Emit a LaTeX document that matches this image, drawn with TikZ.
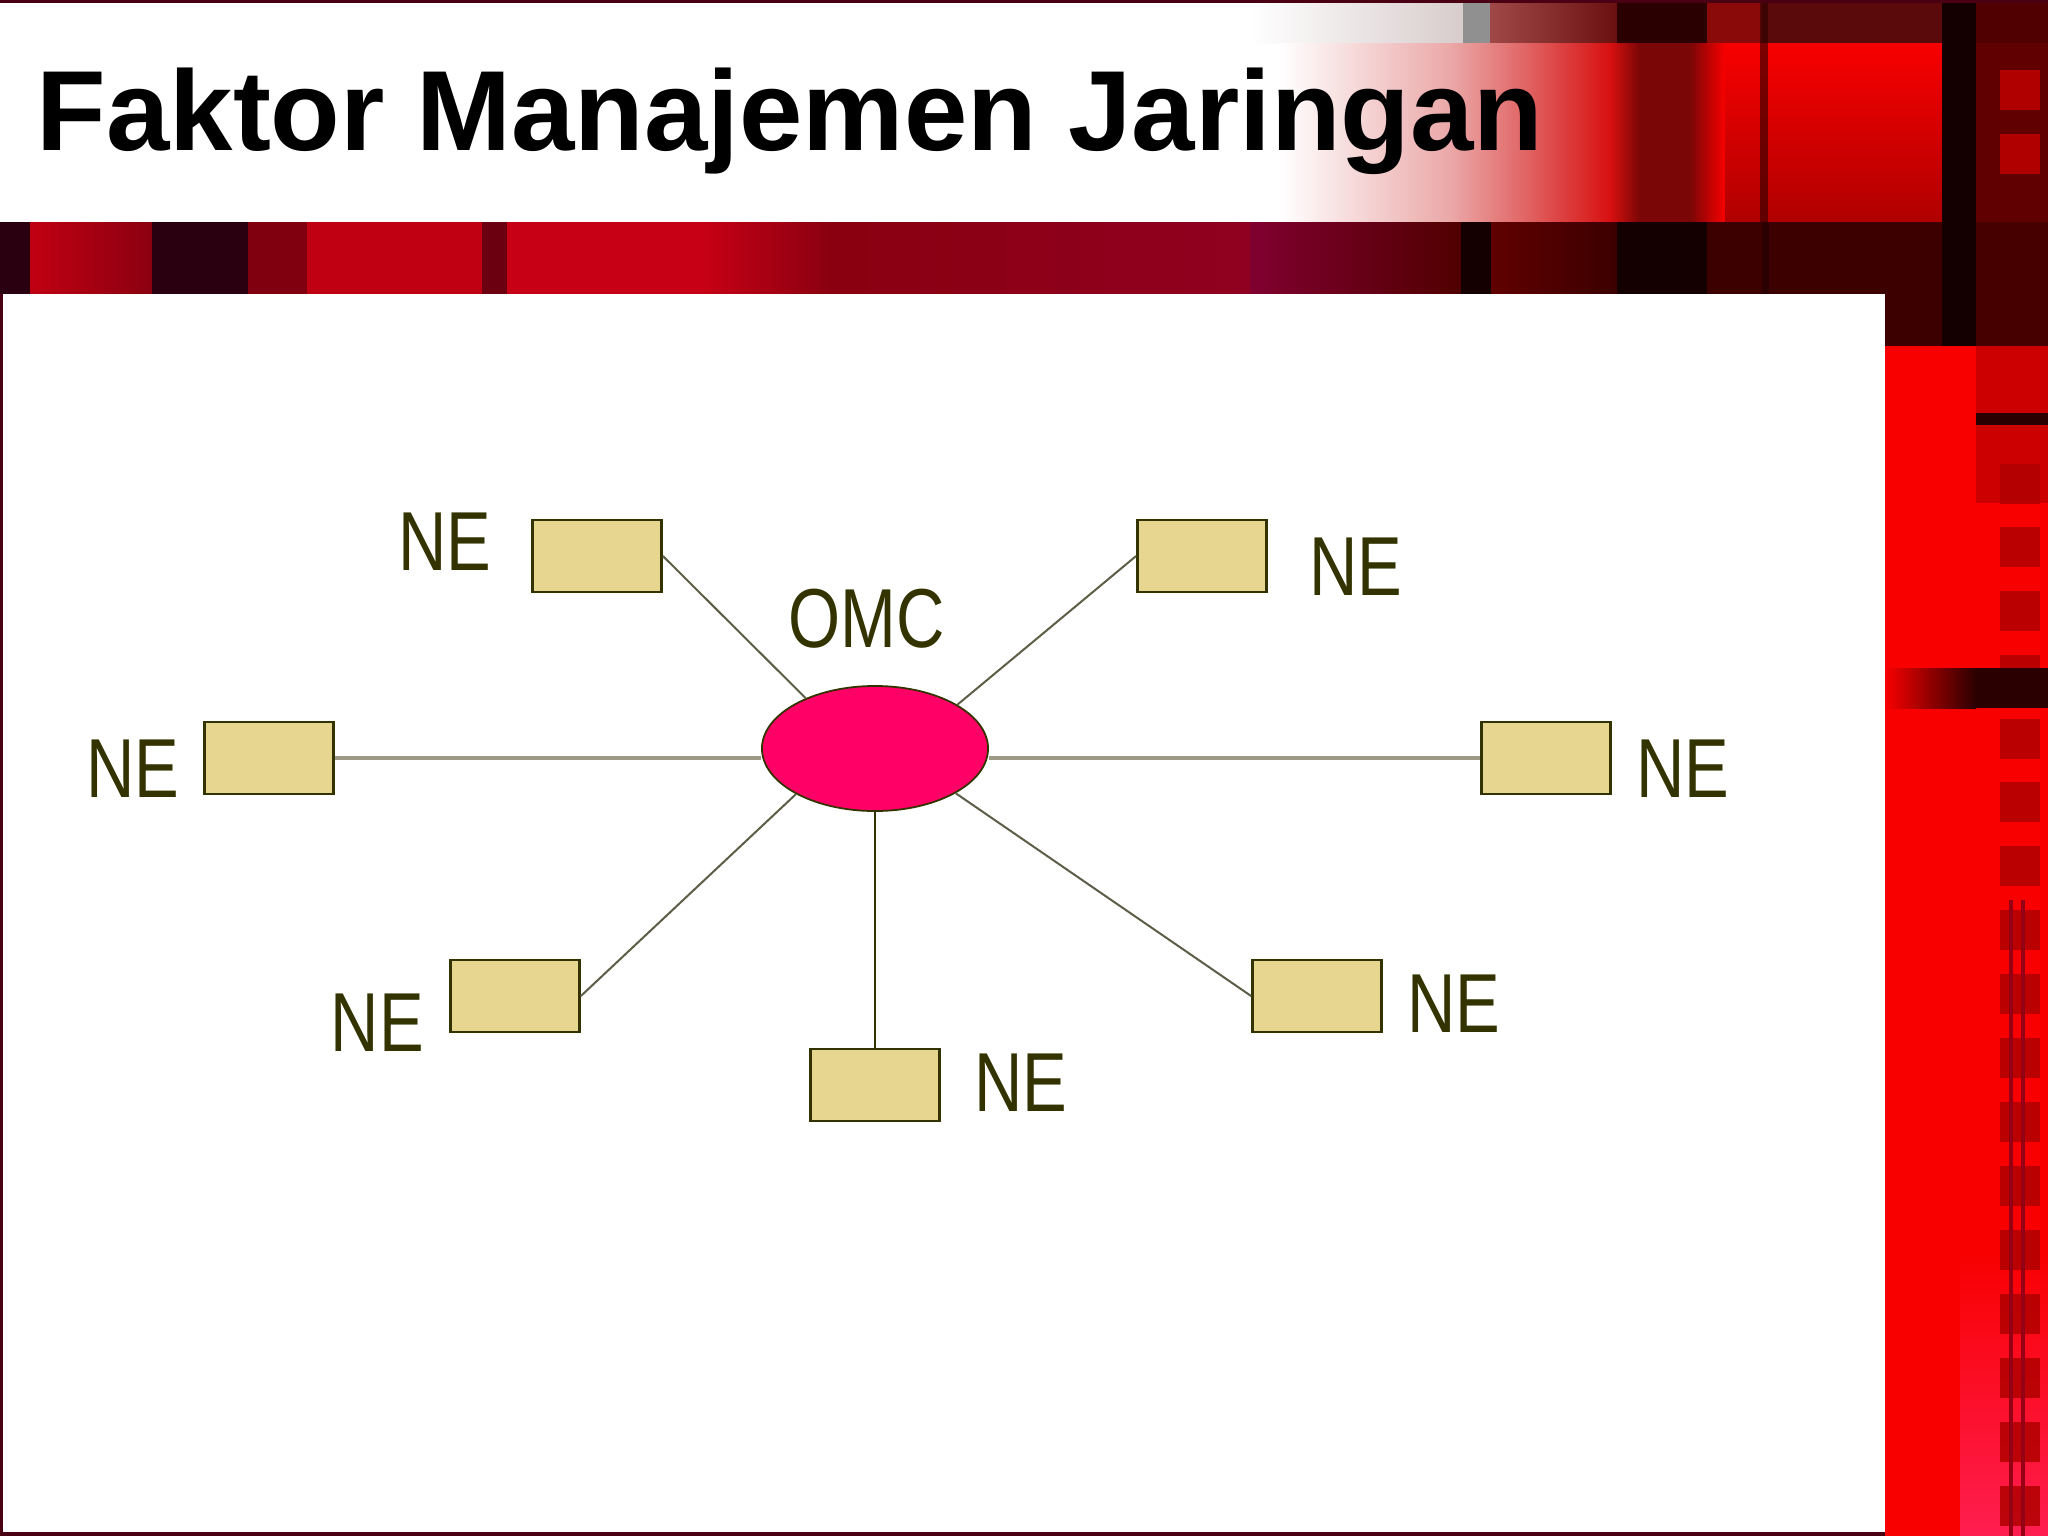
\documentclass[tikz,border=0pt]{standalone}
\usepackage{fontspec}
\setmainfont{Liberation Sans}
\usepackage{graphicx}
\usetikzlibrary{shapes.geometric}
\definecolor{neborder}{HTML}{333300}
\definecolor{nefill}{HTML}{E6D690}
\definecolor{omcfill}{HTML}{FF0066}
\definecolor{linkgray}{HTML}{5E5E48}
\definecolor{linklight}{HTML}{9C9A86}
\definecolor{brightred}{HTML}{F80000}
\definecolor{fadered}{HTML}{D81010}
\definecolor{fadepink}{HTML}{EBA8A8}
\definecolor{fademid}{HTML}{E06060}
\definecolor{topgrey}{HTML}{D8CCCC}
\definecolor{midgrey}{HTML}{909090}
\definecolor{toprose}{HTML}{A04848}
\definecolor{topdark}{HTML}{6A1010}
\definecolor{stripedark}{HTML}{2A0000}
\definecolor{stripemid}{HTML}{7A0606}
\definecolor{nearblack}{HTML}{150000}
\definecolor{bandred}{HTML}{C00012}
\definecolor{bandbright}{HTML}{C80015}
\definecolor{crimsonx}{HTML}{900020}
\definecolor{crimsonl}{HTML}{800030}
\definecolor{deepred}{HTML}{600000}
\definecolor{maroonx}{HTML}{4A0012}
\definecolor{squarered}{HTML}{B00000}
\definecolor{redA}{HTML}{800010}
\definecolor{redB}{HTML}{6A0010}
\definecolor{redC}{HTML}{500000}
\definecolor{redD}{HTML}{3C0000}
\definecolor{redE}{HTML}{460000}
\definecolor{redF}{HTML}{CD0000}
\definecolor{redG}{HTML}{8A0010}
\definecolor{redH}{HTML}{8A0A0A}
\definecolor{redI}{HTML}{5A0A0A}
\definecolor{darkband}{HTML}{2A0010}
\definecolor{pinkglow}{HTML}{FF1E50}
\definecolor{thinred}{HTML}{960014}
\newcommand{\cnd}[1]{\scalebox{0.8}[1]{#1}}
\tikzset{
  nebox/.style={rectangle, draw=neborder, fill=nefill, line width=0.77pt,
    minimum width=1.29cm, minimum height=0.72cm, inner sep=0pt},
  omcshape/.style={ellipse, draw=neborder, fill=omcfill, line width=0.5pt,
    minimum width=2.26cm, minimum height=1.25cm, inner sep=0pt},
  lbl/.style={text=neborder, inner sep=0pt, font=\fontsize{23.8}{28}\selectfont},
  thinlink/.style={draw=linkgray, line width=0.57pt},
  thicklink/.style={draw=linklight, line width=1.3pt},
  vlink/.style={draw=neborder, line width=0.6pt},
}
\begin{document}
\begin{tikzpicture}[x=0.01cm, y=-0.01cm]
\useasboundingbox (0,0) rectangle (2048,1536);
% ---------- background ----------
\fill[white] (0,0) rectangle (2048,1536);
% top strip (y 0-43), right part
\shade[left color=white, right color=topgrey] (1250,0) rectangle (1463,43);
\fill[midgrey] (1463,0) rectangle (1490,43);
\shade[left color=toprose, right color=topdark] (1490,0) rectangle (1617,43);
\fill[stripedark] (1617,0) rectangle (1707,43);
\fill[redH] (1707,0) rectangle (1762,43);
\fill[redI] (1762,0) rectangle (1942,43);
\fill[nearblack] (1942,0) rectangle (1976,43);
\fill[redC] (1976,0) rectangle (2048,43);
% main top band (y 43-222), right part
\shade[left color=white, right color=fadepink] (1280,43) rectangle (1450,222);
\shade[left color=fadepink, right color=fademid] (1450,43) rectangle (1530,222);
\shade[left color=fademid, right color=fadered] (1530,43) rectangle (1610,222);
\shade[left color=fadered, right color=stripemid] (1610,43) rectangle (1640,222);
\fill[stripemid] (1640,43) rectangle (1690,222);
\shade[left color=stripemid, right color=brightred] (1690,43) rectangle (1725,222);
\shade[top color=brightred, bottom color=squarered] (1725,43) rectangle (1942,222);
\fill[stripedark, opacity=0.6] (1760,0) rectangle (1768,222);
\fill[nearblack] (1942,0) rectangle (1976,346);
\fill[deepred] (1976,43) rectangle (2048,222);
\fill[squarered] (2000,70) rectangle (2040,110);
\fill[squarered] (2000,134) rectangle (2040,174);
\fill[maroonx] (0,0) rectangle (2048,3);
% red band (y 222-294)
\fill[darkband] (0,222) rectangle (30,294);
\shade[left color=bandred, right color=redG] (30,222) rectangle (152,294);
\fill[darkband] (152,222) rectangle (248,294);
\fill[redA] (248,222) rectangle (307,294);
\fill[bandred] (307,222) rectangle (482,294);
\fill[redB] (482,222) rectangle (507,294);
\fill[bandbright] (507,222) rectangle (700,294);
\shade[left color=bandbright, right color=redG] (700,222) rectangle (830,294);
\shade[left color=redG, right color=crimsonx] (830,222) rectangle (1250,294);
\shade[left color=crimsonl, right color=redC] (1250,222) rectangle (1461,294);
\fill[nearblack] (1461,222) rectangle (1491,346);
\shade[left color=deepred, right color=redD] (1491,222) rectangle (1617,346);
\fill[nearblack] (1617,222) rectangle (1707,346);
\fill[redD] (1707,222) rectangle (1942,346);
\fill[stripedark] (1762,222) rectangle (1769,346);
\fill[redE] (1976,222) rectangle (2048,346);
% right strip
\fill[brightred] (1885,346) rectangle (2048,1536);
\fill[redF] (1976,346) rectangle (2048,503);
\shade[top color=brightred, bottom color=pinkglow] (1960,1250) rectangle (2048,1536);
\foreach \yy in {464,527,591,655,719,782,846,910,974,1038,1102,1166,1230,1294,1358,1422,1486}
  \fill[squarered, opacity=0.85] (2000,\yy) rectangle (2040,\yy+40);
\fill[stripedark] (1976,413) rectangle (2048,425);
\shade[left color=brightred, right color=stripedark] (1885,668) rectangle (1976,708);
\fill[stripedark] (1976,668) rectangle (2048,708);
\fill[thinred] (2009,900) rectangle (2013,1536);
\fill[thinred] (2021,900) rectangle (2025,1536);
% white panel border
\fill[white] (3,294) rectangle (1885,1532);
\fill[maroonx] (0,294) rectangle (3,1536);
\fill[maroonx] (0,1532) rectangle (1885,1536);
% ---------- title ----------
\node[anchor=base west, inner sep=0pt, font=\fontsize{32.4}{38}\selectfont\bfseries] (title) at (36,150.7) {Faktor Manajemen Jaringan};
% ---------- diagram ----------
\node[nebox] (ne1) at (597,556) {};
\node[nebox] (ne2) at (1202,556) {};
\node[nebox] (ne3) at (269,758) {};
\node[nebox] (ne4) at (1546,758) {};
\node[nebox] (ne5) at (515,996) {};
\node[nebox] (ne6) at (875,1085) {};
\node[nebox] (ne7) at (1317,996) {};
\node[omcshape] (omc) at (875,748.5) {};
\node[lbl] (omclbl) at (866.5,618.5) {\cnd{OMC}};
\node[lbl] (l1) at (445,542) {\cnd{NE}};
\node[lbl] (l2) at (1356,567) {\cnd{NE}};
\node[lbl] (l3) at (133,769) {\cnd{NE}};
\node[lbl] (l4) at (1683,769) {\cnd{NE}};
\node[lbl] (l5) at (377.5,1023) {\cnd{NE}};
\node[lbl] (l6) at (1021,1083) {\cnd{NE}};
\node[lbl] (l7) at (1454,1004) {\cnd{NE}};
% connectors
\draw[thinlink] (ne1.east) -- (omc.144);
\draw[thinlink] (ne2.west) -- (omc.28);
\draw[thicklink] (ne3.east) -- (ne3.east -| omc.west);
\draw[thicklink] (ne4.west) -- (ne4.west -| omc.east);
\draw[thinlink] (ne5.east) -- (omc.210);
\draw[vlink] (ne6.north) -- (omc.south);
\draw[thinlink] (ne7.west) -- (omc.331);
\end{tikzpicture}
\end{document}
